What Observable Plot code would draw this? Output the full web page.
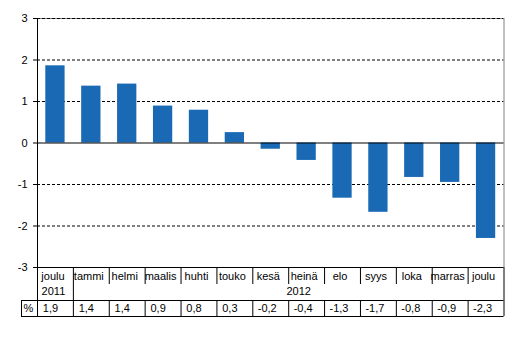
<!DOCTYPE html>
<html><head><meta charset="utf-8">
<script src="https://cdn.jsdelivr.net/npm/d3@7"></script>
<script src="https://cdn.jsdelivr.net/npm/@observablehq/plot@0.6"></script>
<style>body{margin:0;background:#fff}</style>
</head><body><div id="chart"></div>
<script>
const months = ["joulu","tammi","helmi","maalis","huhti","touko","kesä","heinä","elo","syys","loka","marras","joulu"];
const barValues = [1.86,1.37,1.42,0.89,0.79,0.25,-0.15,-0.42,-1.33,-1.67,-0.83,-0.95,-2.30];
const tableValues = [1.9,1.4,1.4,0.9,0.8,0.3,-0.2,-0.4,-1.3,-1.7,-0.8,-0.9,-2.3];
const yearLabels = ["2011","2012"];
const yearColumns = [0, 7];
const yTicks = [-3,-2,-1,0,1,2,3];
const unitLabel = "%";

const data = months.map((m,i)=>({i, month:m, value: barValues[i], pct: tableValues[i]}));
const W=526, H=362, mL=37, mR=22.5, mT=18, mB=95;
const bw = (W-mL-mR)/months.length;
const yMin = d3.min(yTicks), yMax = d3.max(yTicks);
const rowTop = 33, rowBot = 49, monthSep = 17;
const fmt = v => v.toFixed(1).replace(".", ",");
const base = () => yMin;
const idx = d3.range(months.length);
const inner = d3.range(2, months.length);
const ink = "#000";

const chart = Plot.plot({
  width: W, height: H, marginLeft: mL, marginRight: mR, marginTop: mT, marginBottom: mB,
  style: {fontFamily: "'Liberation Sans', Arial, sans-serif", fontSize: "11px", color: ink, background: "#fff"},
  x: {type: "band", domain: idx, padding: 0, round: false, axis: null},
  y: {domain: [yMin, yMax], ticks: yTicks, tickSize: 4, tickPadding: 6, tickFormat: d => String(d), label: null},
  marks: [
    Plot.ruleY([yMax], {stroke: "#808080"}),
    Plot.ruleY(yTicks.filter(t => t !== 0 && t !== yMin), {stroke: ink, strokeDasharray: "3,2"}),
    Plot.ruleX([months.length-1], {dx: bw/2, stroke: "#808080"}),
    Plot.barY(data, {x: "i", y: "value", fill: "#1a69b4", insetLeft: 8.3, insetRight: 8.3}),
    Plot.ruleY([0], {stroke: ink}),
    // table lines
    Plot.ruleY([yMin], {stroke: ink}),
    Plot.ruleY([yMin], {dy: rowTop, insetLeft: -16, stroke: ink}),
    Plot.ruleY([yMin], {dy: rowBot, insetLeft: -16, stroke: ink}),
    Plot.ruleX([0], {dx: -bw/2, insetBottom: -rowBot, stroke: ink}),
    Plot.ruleX([1], {dx: -bw/2, y1: base, y2: base, insetBottom: -rowBot, stroke: ink}),
    Plot.ruleX([months.length-1], {dx: bw/2, y1: base, y2: base, insetBottom: -rowBot, stroke: ink}),
    Plot.ruleX(inner, {dx: -bw/2, y1: base, y2: base, insetBottom: -monthSep, stroke: ink}),
    Plot.ruleX(inner, {dx: -bw/2, y1: base, y2: base, insetTop: rowTop, insetBottom: -rowBot, stroke: ink}),
    Plot.ruleX([0], {dx: -bw/2 - 16, y1: base, y2: base, insetTop: rowTop, insetBottom: -rowBot, stroke: ink}),
    // table text
    Plot.text(data, {x: "i", y: base, text: "month", dy: 8.5, dx: -2.5}),
    Plot.text([yearLabels[0]], {x: () => yearColumns[0], y: base, text: d => d, dy: 23.5, dx: -2}),
    Plot.text([yearLabels[1]], {x: () => yearColumns[1], y: base, text: d => d, dy: 23.5, dx: -8}),
    Plot.text([unitLabel], {x: () => 0, y: base, text: d => d, dx: -bw/2 - 9, dy: 41}),
    Plot.text(data.filter(d => d.pct >= 0), {x: "i", y: base, text: d => fmt(d.pct), dy: 41, dx: -5}),
    Plot.text(data.filter(d => d.pct < 0), {x: "i", y: base, text: d => fmt(d.pct), dy: 41, dx: -3.5})
  ]
});
document.getElementById("chart").append(chart);
</script>
</body></html>
